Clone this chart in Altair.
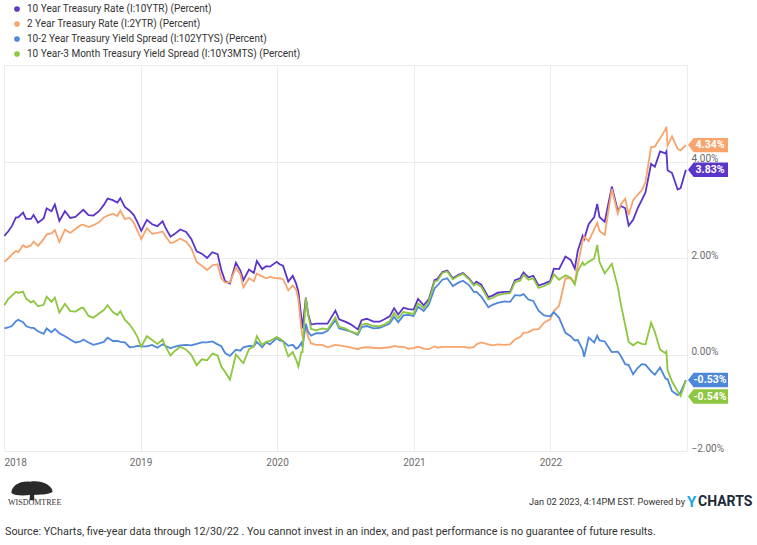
import altair as alt
import pandas as pd

# ---------------- data ----------------
names = [
    "10 Year Treasury Rate (I:10YTR) (Percent)",
    "2 Year Treasury Rate (I:2YTR) (Percent)",
    "10-2 Year Treasury Yield Spread (I:102YTYS) (Percent)",
    "10 Year-3 Month Treasury Yield Spread (I:10Y3MTS) (Percent)",
]
colors = ["#5b34c9", "#f7a46d", "#4d87d9", "#8dc63f"]

dates = (
    ["2018-" + d for d in ["01-02", "01-12", "01-22", "02-02", "02-08", "02-21", "03-01", "03-14", "03-21", "04-02", "04-17", "04-25", "05-08", "05-17", "05-29", "06-13", "06-27", "07-11", "07-25", "08-01", "08-15", "08-28", "09-12", "09-25", "10-05", "10-19", "10-31", "11-08", "11-20", "12-03", "12-14", "12-24"]]
    + ["2019-" + d for d in ["01-03", "01-18", "02-01", "02-15", "03-01", "03-08", "03-22", "04-01", "04-17", "05-03", "05-17", "05-31", "06-14", "06-28", "07-12", "07-26", "08-05", "08-15", "08-28", "09-13", "09-25", "10-03", "10-18", "10-31", "11-08", "11-22", "12-03", "12-13", "12-31"]]
    + ["2020-" + d for d in ["01-08", "01-17", "01-31", "02-12", "02-21", "02-27", "03-06", "03-09", "03-18", "03-24", "04-01", "04-15", "05-01", "05-15", "06-05", "06-15", "07-01", "07-15", "08-04", "08-14", "08-28", "09-15", "10-01", "10-14", "10-28", "11-09", "11-20", "12-04", "12-17", "12-31"]]
    + ["2021-" + d for d in ["01-12", "01-27", "02-10", "02-25", "03-05", "03-18", "03-31", "04-15", "04-30", "05-12", "05-28", "06-10", "06-17", "06-30", "07-19", "07-30", "08-13", "08-31", "09-15", "09-28", "10-12", "10-21", "11-03", "11-16", "11-30", "12-15", "12-31"]]
    + ["2022-" + d for d in ["01-10", "01-24", "02-10", "02-24", "03-07", "03-15", "03-28", "04-01", "04-13", "04-28", "05-06", "05-12", "05-26", "06-14", "06-30", "07-08", "07-20", "07-29", "08-10", "08-22", "09-02", "09-12", "09-27", "10-07", "10-21", "11-04", "11-07", "11-10", "11-22", "12-07", "12-15", "12-29"]]
)

t10 = [
    2.46, 2.55, 2.66, 2.84, 2.84, 2.94, 2.81, 2.81, 2.89, 2.73, 2.82, 3.03, 2.97, 3.11, 2.77, 2.97, 2.83, 2.85, 2.95, 3.00, 2.89, 2.88, 2.97, 3.10, 3.23, 3.20, 3.15, 3.24, 3.06, 2.98, 2.89, 2.74,
    2.56, 2.79, 2.70, 2.66, 2.76, 2.64, 2.44, 2.49, 2.59, 2.54, 2.39, 2.14, 2.09, 2.00, 2.12, 2.08, 1.75, 1.52, 1.47, 1.90, 1.74, 1.54, 1.76, 1.69, 1.94, 1.77, 1.83, 1.82, 1.92,
    1.87, 1.84, 1.51, 1.63, 1.47, 1.30, 0.76, 0.54, 1.18, 0.84, 0.62, 0.64, 0.64, 0.64, 0.91, 0.73, 0.68, 0.63, 0.52, 0.71, 0.74, 0.68, 0.68, 0.73, 0.79, 0.96, 0.83, 0.97, 0.94, 0.93,
    1.15, 1.02, 1.15, 1.54, 1.57, 1.71, 1.74, 1.58, 1.65, 1.69, 1.58, 1.45, 1.51, 1.45, 1.19, 1.22, 1.28, 1.30, 1.30, 1.54, 1.58, 1.70, 1.60, 1.63, 1.43, 1.47, 1.52,
    1.78, 1.77, 2.03, 1.96, 1.78, 2.15, 2.46, 2.39, 2.70, 2.85, 3.12, 2.85, 2.75, 3.48, 2.98, 3.08, 3.03, 2.67, 2.79, 3.03, 3.20, 3.36, 3.95, 3.89, 4.21, 4.17, 4.21, 3.82, 3.76, 3.42, 3.45, 3.83,
]
t2 = [
    1.92, 1.99, 2.07, 2.15, 2.12, 2.27, 2.22, 2.26, 2.34, 2.25, 2.39, 2.49, 2.51, 2.58, 2.33, 2.59, 2.52, 2.60, 2.68, 2.69, 2.64, 2.68, 2.74, 2.84, 2.88, 2.92, 2.87, 2.98, 2.81, 2.83, 2.73, 2.56,
    2.39, 2.62, 2.50, 2.52, 2.55, 2.46, 2.31, 2.33, 2.40, 2.34, 2.20, 1.92, 1.84, 1.75, 1.85, 1.87, 1.58, 1.49, 1.50, 1.80, 1.66, 1.39, 1.58, 1.52, 1.68, 1.62, 1.58, 1.61, 1.58,
    1.58, 1.56, 1.33, 1.43, 1.35, 1.15, 0.52, 0.38, 0.54, 0.37, 0.23, 0.20, 0.20, 0.15, 0.20, 0.19, 0.17, 0.15, 0.11, 0.14, 0.15, 0.14, 0.13, 0.14, 0.15, 0.18, 0.16, 0.16, 0.12, 0.13,
    0.16, 0.12, 0.11, 0.17, 0.14, 0.16, 0.16, 0.16, 0.16, 0.16, 0.14, 0.15, 0.21, 0.25, 0.21, 0.19, 0.21, 0.20, 0.21, 0.31, 0.36, 0.45, 0.46, 0.52, 0.52, 0.66, 0.73,
    0.90, 1.01, 1.58, 1.58, 1.49, 1.85, 2.36, 2.44, 2.35, 2.60, 2.73, 2.56, 2.48, 3.43, 2.92, 3.11, 3.23, 2.89, 3.20, 3.31, 3.40, 3.57, 4.30, 4.31, 4.48, 4.66, 4.72, 4.33, 4.52, 4.26, 4.23, 4.34,
]
s102 = [
    0.54, 0.56, 0.59, 0.69, 0.72, 0.67, 0.59, 0.55, 0.55, 0.48, 0.43, 0.54, 0.46, 0.53, 0.44, 0.38, 0.31, 0.25, 0.27, 0.31, 0.25, 0.20, 0.23, 0.26, 0.35, 0.28, 0.28, 0.26, 0.25, 0.15, 0.16, 0.18,
    0.17, 0.17, 0.20, 0.14, 0.21, 0.18, 0.13, 0.16, 0.19, 0.20, 0.19, 0.22, 0.25, 0.25, 0.27, 0.21, 0.17, 0.03, -0.03, 0.10, 0.08, 0.15, 0.18, 0.17, 0.26, 0.15, 0.25, 0.21, 0.34,
    0.29, 0.28, 0.18, 0.20, 0.12, 0.15, 0.24, 0.16, 0.64, 0.47, 0.39, 0.44, 0.44, 0.49, 0.71, 0.54, 0.51, 0.48, 0.41, 0.57, 0.59, 0.54, 0.55, 0.59, 0.64, 0.78, 0.67, 0.81, 0.82, 0.80,
    0.99, 0.90, 1.04, 1.37, 1.43, 1.55, 1.58, 1.42, 1.49, 1.53, 1.44, 1.30, 1.30, 1.20, 0.98, 1.03, 1.07, 1.10, 1.09, 1.23, 1.22, 1.25, 1.14, 1.11, 0.91, 0.81, 0.79,
    0.88, 0.76, 0.45, 0.38, 0.29, 0.30, 0.10, -0.05, 0.35, 0.25, 0.39, 0.29, 0.27, 0.05, 0.06, -0.03, -0.20, -0.22, -0.41, -0.28, -0.20, -0.21, -0.35, -0.42, -0.27, -0.49, -0.51, -0.51, -0.76, -0.84, -0.78, -0.53,
]
s103m = [
    1.02, 1.15, 1.22, 1.30, 1.28, 1.30, 1.16, 1.08, 1.11, 1.00, 1.03, 1.20, 1.09, 1.18, 0.87, 1.05, 0.90, 0.89, 0.96, 0.97, 0.80, 0.76, 0.85, 0.92, 1.02, 0.88, 0.82, 0.90, 0.72, 0.62, 0.50, 0.36,
    0.16, 0.38, 0.30, 0.22, 0.31, 0.18, -0.02, 0.06, 0.16, 0.10, -0.01, -0.22, -0.10, -0.12, 0.02, -0.02, -0.25, -0.36, -0.52, 0.00, -0.11, -0.18, 0.11, 0.17, 0.38, 0.20, 0.26, 0.28, 0.36,
    0.33, 0.28, -0.04, 0.05, -0.11, -0.25, 0.05, 0.05, 1.17, 0.82, 0.53, 0.50, 0.54, 0.52, 0.77, 0.57, 0.54, 0.48, 0.43, 0.62, 0.64, 0.59, 0.59, 0.62, 0.69, 0.86, 0.75, 0.88, 0.86, 0.84,
    1.06, 0.96, 1.11, 1.51, 1.53, 1.69, 1.72, 1.56, 1.63, 1.67, 1.56, 1.43, 1.47, 1.40, 1.14, 1.17, 1.23, 1.26, 1.27, 1.50, 1.53, 1.65, 1.55, 1.58, 1.38, 1.42, 1.48,
    1.66, 1.55, 1.64, 1.59, 1.45, 1.73, 1.91, 1.85, 1.92, 1.99, 2.27, 1.92, 1.68, 1.88, 1.40, 1.05, 0.60, 0.26, 0.19, 0.26, 0.22, 0.21, 0.66, 0.47, 0.10, 0.03, 0.06, -0.32, -0.56, -0.76, -0.86, -0.54,
]

y_ticks = [-2, 0, 2, 4, 6]
source_text = "Source: YCharts, five-year data through 12/30/22 . You cannot invest in an index, and past performance is no guarantee of future results."
stamp_text = "Jan 02 2023, 4:14PM EST. Powered by"

# ---------------- build table ----------------
series_values = [t10, t2, s102, s103m]
rows = []
for name, vals in zip(names, series_values):
    for d, v in zip(dates, vals):
        rows.append({"date": d, "series": name, "value": v})
df = pd.DataFrame(rows)

W, H = 683, 386
FONT = "Roboto"

x_enc = alt.X(
    "date:T",
    scale=alt.Scale(domain=[alt.DateTime(year=2018, month=1, date=1), alt.DateTime(year=2023, month=1, date=1)]),
    axis=alt.Axis(
        title=None,
        values=[alt.DateTime(year=y, month=1, date=1) for y in range(2018, 2024)],
        labelExpr="year(datum.value) == 2023 ? '' : timeFormat(datum.value, '%Y')",
        grid=True, gridColor="#ececec", domain=False, ticks=False,
        labelFlush=True, labelColor="#6b6b6b", labelFontSize=10, labelPadding=6,
        labelFont=FONT,
    ),
)
y_enc = alt.Y(
    "value:Q",
    scale=alt.Scale(domain=[-2, 6], nice=False),
    axis=alt.Axis(
        title=None, orient="right", values=y_ticks,
        labelExpr="datum.value == 6 ? '' : format(datum.value, '.2f') + '%'",
        grid=True, gridColor="#ececec", domain=False, ticks=False,
        labelColor="#6b6b6b", labelFontSize=10, labelPadding=4, labelOffset=-3,
        labelFont=FONT,
    ),
)

lines = alt.Chart(df).mark_line(strokeWidth=1.8, interpolate="linear").encode(
    x=x_enc,
    y=y_enc,
    color=alt.Color(
        "series:N",
        scale=alt.Scale(domain=names, range=colors),
        legend=alt.Legend(
            title=None, orient="none", legendX=8, legendY=-61,
            symbolType="circle", symbolSize=10, symbolStrokeWidth=2.5,
            labelFontSize=10, labelColor="#333333", labelFont=FONT,
            rowPadding=1, labelOffset=5, labelLimit=500,
        ),
    ),
    order=alt.Order("date:T"),
)

layers = [lines]

# end-of-series value tags
tag_path = "M-1,0L-0.72,-0.36L1,-0.36L1,0.36L-0.72,0.36Z"
offsets = [0, 0, 0, 16]
for name, vals, c, off in zip(names, series_values, colors, offsets):
    last = pd.DataFrame({"value": [vals[-1]], "label": [f"{vals[-1]:.2f}%"]})
    base = alt.Chart(last)
    layers.append(
        base.mark_point(shape=tag_path, size=1600, filled=True, color=c, opacity=1, strokeWidth=0, yOffset=off)
        .encode(x=alt.value(W + 21), y=alt.Y("value:Q"))
    )
    layers.append(
        base.mark_text(color="white", fontWeight="bold", fontSize=10.5, font=FONT, yOffset=off, align="center", baseline="middle")
        .encode(x=alt.value(W + 23), y=alt.Y("value:Q"), text="label:N")
    )

one = pd.DataFrame({"k": [0]})
# footer: WisdomTree logo
tree_path = ("M-1,0.1 C-1.0,-0.25 -0.6,-0.5 -0.1,-0.45 C0.4,-0.55 1.0,-0.3 1,0.05 "
             "C0.7,0.22 0.35,0.15 0.1,0.2 L0.12,0.45 L-0.12,0.45 L-0.1,0.2 C-0.4,0.22 -0.8,0.25 -1,0.1 Z")
layers.append(alt.Chart(one).mark_point(shape=tree_path, size=1700, filled=True, color="#2a2a2a", opacity=1, strokeWidth=0)
              .encode(x=alt.value(28), y=alt.value(426)))
layers.append(alt.Chart(one).mark_text(text="WISDOMTREE", font="Liberation Serif", fontSize=8, color="#333333", align="left", baseline="middle")
              .encode(x=alt.value(4), y=alt.value(438)))
layers.append(alt.Chart(one).mark_text(text=stamp_text, font=FONT, fontSize=9.2, color="#333333", align="right", baseline="middle")
              .encode(x=alt.value(681), y=alt.value(437)))
layers.append(alt.Chart(one).mark_text(text="Y", font=FONT, fontWeight="bold", fontSize=15, color="#1ea7e1", align="left", baseline="middle")
              .encode(x=alt.value(683), y=alt.value(437)))
layers.append(alt.Chart(one).mark_text(text="CHARTS", font=FONT, fontWeight="bold", fontSize=14, color="#1d2a3a", align="left", baseline="middle")
              .encode(x=alt.value(694), y=alt.value(437)))
layers.append(alt.Chart(one).mark_text(text=source_text, font=FONT, fontSize=10.8, color="#333333", align="left", baseline="middle")
              .encode(x=alt.value(1), y=alt.value(467)))

chart = alt.layer(*layers).properties(
    width=W, height=H,
    autosize=alt.AutoSizeParams(type="none"),
    padding={"left": 4, "top": 65, "right": 70, "bottom": 94},
    background="white",
).configure_view(strokeWidth=0)

chart.save("out.html", embed_options={"renderer": "svg", "actions": False})
